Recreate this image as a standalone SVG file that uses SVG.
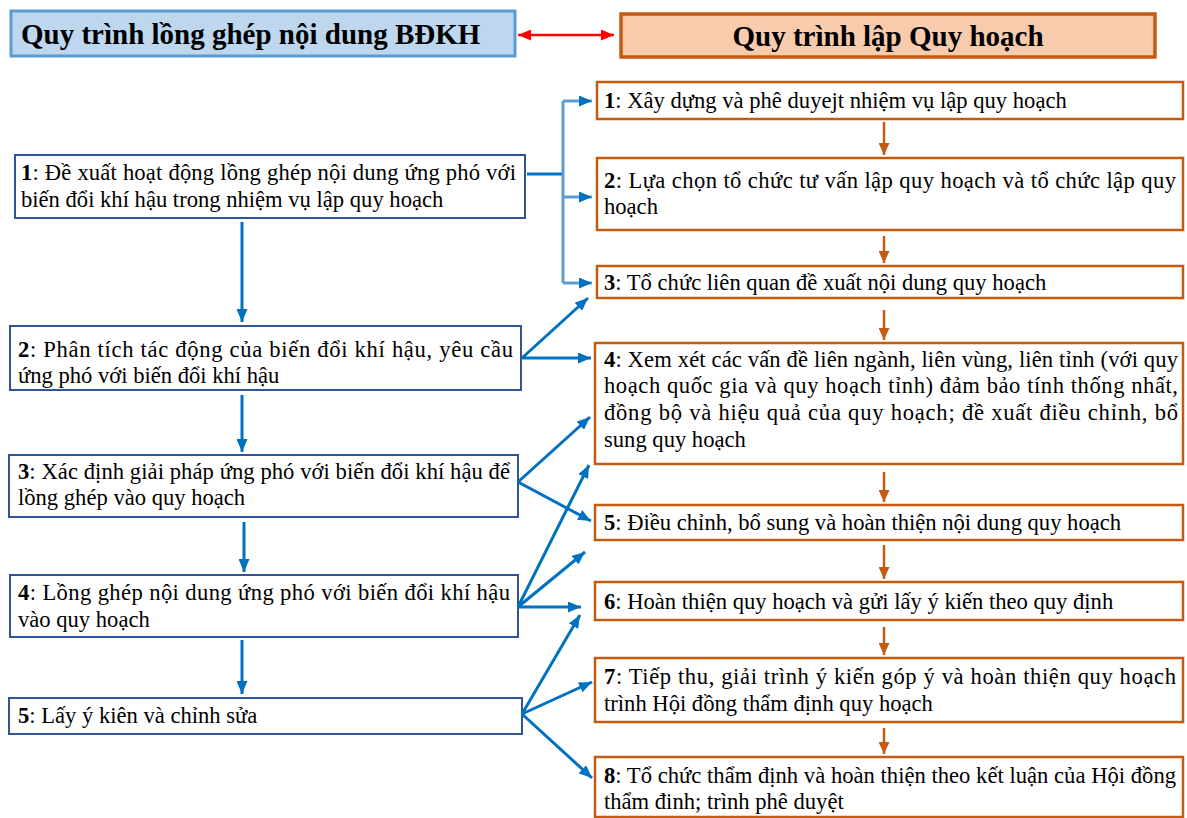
<svg xmlns="http://www.w3.org/2000/svg" width="1187" height="818" viewBox="0 0 1187 818">
<style>
.t{font-family:"Liberation Serif","Times New Roman",serif;font-size:22.6px;fill:#000}
.h{font-family:"Liberation Serif","Times New Roman",serif;font-size:29px;font-weight:bold;fill:#000}
.lb{fill:#fff;stroke:#2F5597;stroke-width:2}
.rb{fill:#fff;stroke:#C55A11;stroke-width:2.5}
.bl{stroke:#0070C0;stroke-width:3;fill:none}
.bus{stroke:#5B9BD5;stroke-width:3;fill:none}
.or{stroke:#C55A11;stroke-width:2.5;fill:none}
</style>
<defs>
<marker id="ab" markerUnits="userSpaceOnUse" markerWidth="13" markerHeight="11" refX="13" refY="5.5" orient="auto"><path d="M0,0 L13,5.5 L0,11 z" fill="#0070C0"/></marker>
<marker id="ao" markerUnits="userSpaceOnUse" markerWidth="12" markerHeight="11" refX="12" refY="5.5" orient="auto"><path d="M0,0 L12,5.5 L0,11 z" fill="#C55A11"/></marker>
<marker id="ar" markerUnits="userSpaceOnUse" markerWidth="13" markerHeight="11" refX="13" refY="5.5" orient="auto-start-reverse"><path d="M0,0 L13,5.5 L0,11 z" fill="#FF0000"/></marker>
</defs>
<rect width="1187" height="818" fill="#fff"/>
<g id="hdr-left"><rect x="11" y="11" width="504" height="45" fill="#BDD7EE" stroke="#5B9BD5" stroke-width="3"/><text class="h" x="21" y="44">Quy trình lồng ghép nội dung BĐKH</text></g>
<g id="hdr-right"><rect x="621" y="14" width="534" height="43" fill="#F8CBAD" stroke="#C55A11" stroke-width="3.5"/><text class="h" x="888" y="46" text-anchor="middle">Quy trình lập Quy hoạch</text></g>
<g id="L1"><rect class="lb" x="15" y="155" width="510" height="63"/><text class="t" x="21" y="180" textLength="495" lengthAdjust="spacing"><tspan font-weight="bold">1</tspan>: Đề xuất hoạt động lồng ghép nội dung ứng phó với</text><text class="t" x="21" y="207">biến đổi khí hậu trong nhiệm vụ lập quy hoạch</text></g>
<g id="L2"><rect class="lb" x="10" y="326" width="511" height="64"/><text class="t" x="18" y="357" textLength="495" lengthAdjust="spacing"><tspan font-weight="bold">2</tspan>: Phân tích tác động của biến đổi khí hậu, yêu cầu</text><text class="t" x="18" y="383">ứng phó với biến đổi khí hậu</text></g>
<g id="L3"><rect class="lb" x="9" y="455" width="509" height="62"/><text class="t" x="18" y="479" textLength="492" lengthAdjust="spacing"><tspan font-weight="bold">3</tspan>: Xác định giải pháp ứng phó với biến đổi khí hậu để</text><text class="t" x="18" y="505">lồng ghép vào quy hoạch</text></g>
<g id="L4"><rect class="lb" x="10" y="575" width="508" height="62"/><text class="t" x="18" y="600" textLength="492" lengthAdjust="spacing"><tspan font-weight="bold">4</tspan>: Lồng ghép nội dung ứng phó với biến đổi khí hậu</text><text class="t" x="18" y="627">vào quy hoạch</text></g>
<g id="L5"><rect class="lb" x="9" y="698" width="513" height="36"/><text class="t" x="18" y="723"><tspan font-weight="bold">5</tspan>: Lấy ý kiên và chỉnh sửa</text></g>
<g id="R1"><rect class="rb" x="597" y="82" width="586" height="37"/><text class="t" x="604" y="108"><tspan font-weight="bold">1</tspan>: Xây dựng và phê duyejt nhiệm vụ lập quy hoạch</text></g>
<g id="R2"><rect class="rb" x="597" y="158" width="586" height="72"/><text class="t" x="604" y="188" textLength="572" lengthAdjust="spacing"><tspan font-weight="bold">2</tspan>: Lựa chọn tổ chức tư vấn lập quy hoạch và tổ chức lập quy</text><text class="t" x="604" y="214">hoạch</text></g>
<g id="R3"><rect class="rb" x="597" y="266" width="586" height="32"/><text class="t" x="604" y="290"><tspan font-weight="bold">3</tspan>: Tổ chức liên quan đề xuất nội dung quy hoạch</text></g>
<g id="R4"><rect class="rb" x="595" y="343" width="588" height="121"/><text class="t" x="604" y="367" textLength="574" lengthAdjust="spacing"><tspan font-weight="bold">4</tspan>: Xem xét các vấn đề liên ngành, liên vùng, liên tỉnh (với quy</text><text class="t" x="604" y="393" textLength="574" lengthAdjust="spacing">hoạch quốc gia và quy hoạch tỉnh) đảm bảo tính thống nhất,</text><text class="t" x="604" y="420" textLength="574" lengthAdjust="spacing">đồng bộ và hiệu quả của quy hoạch; đề xuất điều chỉnh, bổ</text><text class="t" x="604" y="447">sung quy hoạch</text></g>
<g id="R5"><rect class="rb" x="595" y="505" width="588" height="35"/><text class="t" x="604" y="530"><tspan font-weight="bold">5</tspan>: Điều chỉnh, bổ sung và hoàn thiện nội dung quy hoạch</text></g>
<g id="R6"><rect class="rb" x="595" y="582" width="588" height="38"/><text class="t" x="604" y="609"><tspan font-weight="bold">6</tspan>: Hoàn thiện quy hoạch và gửi lấy ý kiến theo quy định</text></g>
<g id="R7"><rect class="rb" x="595" y="658" width="588" height="64"/><text class="t" x="604" y="684" textLength="572" lengthAdjust="spacing"><tspan font-weight="bold">7</tspan>: Tiếp thu, giải trình ý kiến góp ý và hoàn thiện quy hoạch</text><text class="t" x="604" y="711">trình Hội đồng thẩm định quy hoạch</text></g>
<g id="R8"><rect class="rb" x="595" y="757" width="588" height="60"/><text class="t" x="604" y="783" textLength="572" lengthAdjust="spacing"><tspan font-weight="bold">8</tspan>: Tổ chức thẩm định và hoàn thiện theo kết luận của Hội đồng</text><text class="t" x="604" y="809">thẩm đinh; trình phê duyệt</text></g>
<g id="connectors">
<line x1="518" y1="35" x2="614" y2="35" stroke="#FF0000" stroke-width="2.5" marker-start="url(#ar)" marker-end="url(#ar)"/>
<line class="bl" x1="527" y1="174" x2="563" y2="174"/>
<line class="bus" x1="563" y1="101" x2="563" y2="283"/>
<line class="bus" x1="563" y1="101" x2="592" y2="101" marker-end="url(#ab)"/>
<line class="bus" x1="563" y1="197" x2="592" y2="197" marker-end="url(#ab)"/>
<line class="bus" x1="563" y1="283" x2="592" y2="283" marker-end="url(#ab)"/>
<line class="bl" x1="522" y1="358" x2="588" y2="298" marker-end="url(#ab)"/>
<line class="bl" x1="522" y1="358" x2="591" y2="358" marker-end="url(#ab)"/>
<line class="bl" x1="518" y1="482" x2="590" y2="417" marker-end="url(#ab)"/>
<line class="bl" x1="518" y1="482" x2="591" y2="521" marker-end="url(#ab)"/>
<line class="bl" x1="518" y1="607" x2="589" y2="465" marker-end="url(#ab)"/>
<line class="bl" x1="518" y1="607" x2="585" y2="552" marker-end="url(#ab)"/>
<line class="bl" x1="518" y1="607" x2="581" y2="607" marker-end="url(#ab)"/>
<line class="bl" x1="522" y1="714" x2="580" y2="615" marker-end="url(#ab)"/>
<line class="bl" x1="522" y1="714" x2="592" y2="682" marker-end="url(#ab)"/>
<line class="bl" x1="522" y1="714" x2="592" y2="778" marker-end="url(#ab)"/>
<line class="or" x1="884" y1="122" x2="884" y2="155" marker-end="url(#ao)"/>
<line class="or" x1="884" y1="236" x2="884" y2="263" marker-end="url(#ao)"/>
<line class="or" x1="884" y1="310" x2="884" y2="340" marker-end="url(#ao)"/>
<line class="or" x1="884" y1="472" x2="884" y2="502" marker-end="url(#ao)"/>
<line class="or" x1="884" y1="545" x2="884" y2="579" marker-end="url(#ao)"/>
<line class="or" x1="884" y1="627" x2="884" y2="655" marker-end="url(#ao)"/>
<line class="or" x1="884" y1="728" x2="884" y2="754" marker-end="url(#ao)"/>
<line class="bl" x1="242" y1="222" x2="242" y2="322" marker-end="url(#ab)"/>
<line class="bl" x1="242" y1="395" x2="242" y2="452" marker-end="url(#ab)"/>
<line class="bl" x1="244" y1="522" x2="244" y2="572" marker-end="url(#ab)"/>
<line class="bl" x1="242" y1="640" x2="242" y2="694" marker-end="url(#ab)"/>
</g>
</svg>
